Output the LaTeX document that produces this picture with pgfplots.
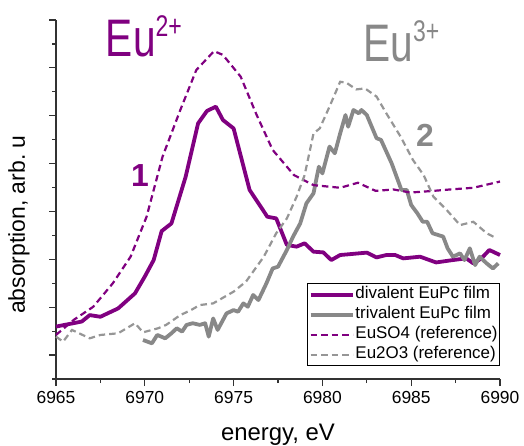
\documentclass[border=0pt]{standalone}
\usepackage{pgfplots}
\pgfplotsset{compat=1.18}
\usepackage{fontspec}
\setmainfont{Liberation Sans}
\definecolor{eupur}{RGB}{128,0,128}
\definecolor{eugray}{RGB}{136,136,136}
\definecolor{eugrayd}{RGB}{150,150,150}
\definecolor{axcol}{RGB}{50,50,50}
\begin{document}
\begin{tikzpicture}
\useasboundingbox (-56bp,-67bp) rectangle (468bp,379bp);
\begin{axis}[
  at={(0,0)}, anchor=south west,
  scale only axis, width=444bp, height=359bp,
  xmin=6965, xmax=6990, ymin=0, ymax=15,
  axis lines=left, axis line style={axcol, line width=1.5bp, -},
  clip=false,
  xtick={6965,6970,...,6990},
  minor xtick={6967.5,6972.5,...,6987.5},
  ytick={1,3,...,15}, yticklabels={},
  minor ytick={0,2,...,14},
  tick align=outside,
  major tick length=7bp, minor tick length=4bp,
  every tick/.style={axcol, line width=1.2bp},
  tick label style={font=\fontsize{17.5}{17.5}\selectfont},
  /pgf/number format/assume math mode=true,
  /pgf/number format/set thousands separator={},
  xticklabel style={yshift=-2bp},
  legend style={at={(rel axis cs:1,0.036)}, anchor=south east, draw=black, line width=0.8bp,
    font=\fontsize{17}{19}\selectfont, inner sep=1bp, row sep=0bp,
    nodes={inner sep=1bp, text height=13bp, text depth=5bp}},
  legend cell align=left,
  legend image code/.code={\draw[#1] (0bp,0bp) -- (42bp,0bp);},
]
\addplot[eupur, line width=3.8bp, line join=round] coordinates {
(6965,2.19) (6966.45,2.40) (6966.9,2.67) (6967.5,2.60) (6968.5,2.95) (6969.45,3.58)
(6970.0,4.28) (6970.5,4.97) (6970.95,6.18) (6971.5,6.50) (6972.3,8.45) (6973.0,10.68)
(6973.5,11.2) (6974.0,11.38) (6974.4,10.82) (6975.0,10.47) (6975.9,7.9) (6976.9,6.78)
(6977.4,6.71) (6978.0,5.6) (6978.55,5.53) (6979.0,5.67) (6979.5,5.32) (6980.05,5.29)
(6980.5,4.97) (6981.0,5.18) (6982.5,5.28) (6983.05,5.08) (6983.6,5.18) (6984.1,5.18)
(6984.55,5.04) (6985.5,5.11) (6986.4,4.87) (6987.35,4.97) (6988.1,5.04) (6988.5,4.83)
(6988.95,5.04) (6989.4,5.39) (6990,5.18)
};
\addlegendentry{divalent EuPc film}
\addplot[eugray, line width=3.8bp, line join=round] coordinates {
(6969.9,1.63) (6970.4,1.49) (6970.7,1.84) (6971.15,1.70) (6971.5,1.91) (6971.8,2.12)
(6972.1,1.98) (6972.35,2.26) (6972.7,2.33) (6973.1,2.26) (6973.4,2.33) (6973.6,1.77)
(6973.85,2.53) (6974.1,2.05) (6974.6,2.74) (6975.0,2.88) (6975.25,2.81) (6975.55,3.16)
(6975.8,3.02) (6976.1,3.51) (6976.4,3.30) (6976.85,4.0) (6977.2,4.62) (6977.5,4.69)
(6978.0,5.39) (6978.35,5.95) (6978.75,6.50) (6979.1,7.34) (6979.5,7.76) (6979.8,8.87)
(6980.0,8.59) (6980.4,9.71) (6980.7,9.43) (6981.0,10.26) (6981.3,11.03) (6981.45,10.54)
(6981.75,11.24) (6982.05,11.1) (6982.2,11.24) (6982.5,11.03) (6983.05,10.06) (6983.3,9.99)
(6983.9,9.01) (6984.45,7.90) (6984.75,7.90) (6985.0,7.27) (6985.35,6.92) (6985.65,6.57)
(6985.9,6.57) (6986.2,6.09) (6986.8,5.95) (6987.05,5.46) (6987.35,5.11) (6987.75,5.25)
(6988.0,4.97) (6988.3,5.46) (6988.6,4.76) (6988.85,5.11) (6989.25,4.83) (6989.6,4.62)
(6989.9,4.83)
};
\addlegendentry{trivalent EuPc film}
\addplot[eupur, line width=2.2bp, dash pattern=on 6.5bp off 4bp] coordinates {
(6965,1.84) (6966,2.47) (6967.1,3.02) (6968.2,4.0) (6969.2,5.11) (6970.1,6.78)
(6971.0,9.29) (6972.0,11.24) (6972.9,12.91) (6973.9,13.7) (6974.4,13.54) (6975.4,12.63)
(6976.3,11.03) (6977.2,9.57) (6978.4,8.52) (6979.5,8.1) (6981.0,7.99) (6982.0,8.2)
(6983.0,7.86) (6984.0,7.92) (6984.95,7.79) (6986.25,7.86) (6987.2,7.92) (6988.5,7.99)
(6990,8.25)
};
\addlegendentry{EuSO4 (reference)}
\addplot[eugrayd, line width=2.2bp, dash pattern=on 6.5bp off 4bp] coordinates {
(6965,1.77) (6965.4,1.56) (6965.9,2.05) (6966.9,1.70) (6967.5,1.84) (6968.5,1.91)
(6969.45,2.33) (6969.9,1.95) (6970.75,2.12) (6971.2,2.26) (6972.0,2.67) (6972.6,2.88)
(6973.1,3.09) (6973.85,3.16) (6975.0,3.65) (6975.7,4.07) (6976.7,5.11) (6977.4,6.09)
(6978.0,6.71) (6978.55,7.62) (6979.0,8.52) (6979.5,10.26) (6979.85,10.47) (6980.4,11.38)
(6981.0,12.42) (6981.35,12.38) (6981.9,12.10) (6982.4,12.14) (6983.05,11.8) (6983.6,11.1)
(6984.4,10.13) (6985.1,9.15) (6985.7,8.52) (6986.25,7.62) (6987.0,7.06) (6987.75,6.43)
(6988.5,6.57) (6989.25,6.09) (6989.8,5.88)
};
\addlegendentry{Eu2O3 (reference)}
\node[anchor=base, font=\fontsize{24}{24}\selectfont, text=black] at (rel axis cs:0.5,-0.17) {energy, eV};
\node[anchor=base, rotate=90, font=\fontsize{23}{23}\selectfont, text=black] at (rel axis cs:-0.07,0.43) {absorption, arb.\ u};
\node[anchor=base west, text=eupur, inner sep=0pt] at (axis cs:6967.8,13.47)
  {\scalebox{0.77}[1]{\fontsize{53}{53}\selectfont Eu\raisebox{20bp}{\fontsize{30}{30}\selectfont 2+}}};
\node[anchor=base west, text=eugray, inner sep=0pt] at (axis cs:6982.3,13.26)
  {\scalebox{0.77}[1]{\fontsize{53}{53}\selectfont Eu\raisebox{20bp}{\fontsize{30}{30}\selectfont 3+}}};
\node[text=eupur, font=\fontsize{32}{32}\selectfont\bfseries] at (axis cs:6969.73,8.52) {1};
\node[text=eugray, font=\fontsize{32}{32}\selectfont\bfseries] at (axis cs:6985.78,10.17) {2};
\end{axis}
\end{tikzpicture}
\end{document}
